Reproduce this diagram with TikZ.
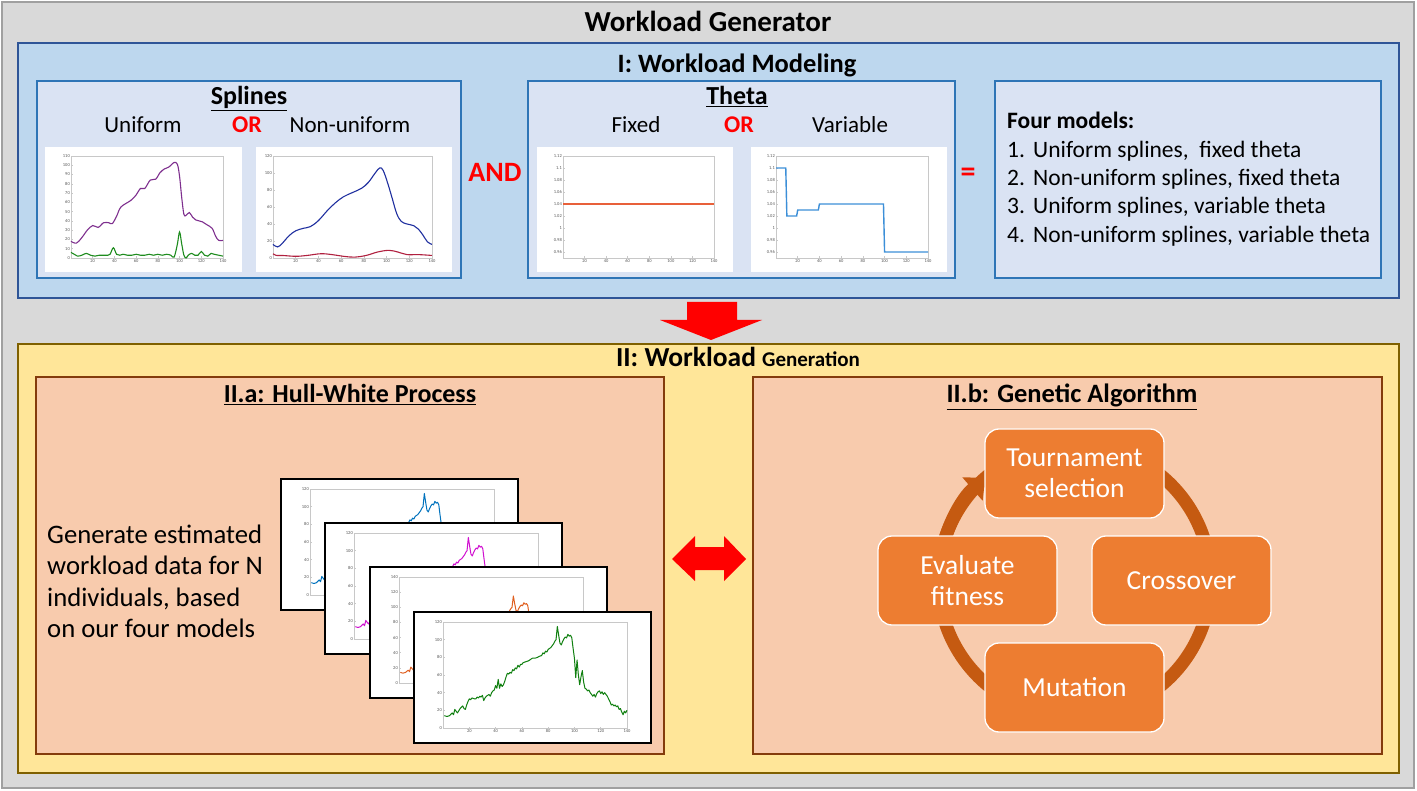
\documentclass[tikz,border=0pt]{standalone}
\usepackage{fontspec}
\setmainfont{Carlito}
\usetikzlibrary{arrows.meta}
\definecolor{gbg}{HTML}{D9D9D9}
\definecolor{gbd}{HTML}{A0A0A0}
\definecolor{bbg}{HTML}{BDD7EE}
\definecolor{bbd}{HTML}{2F5597}
\definecolor{ibg}{HTML}{DAE3F3}
\definecolor{ibd}{HTML}{2E75B6}
\definecolor{ybg}{HTML}{FFE699}
\definecolor{ybd}{HTML}{7F6000}
\definecolor{obg}{HTML}{F8CBAD}
\definecolor{obd}{HTML}{843C0C}
\definecolor{nfill}{HTML}{ED7D31}
\definecolor{cyc}{HTML}{C55A11}
\definecolor{axg}{HTML}{C8C8C8}
\definecolor{tickg}{HTML}{555555}
\definecolor{mpurple}{HTML}{7E2F8E}
\definecolor{mgreen}{HTML}{1E8C1E}
\definecolor{mblue}{HTML}{1F2F9F}
\definecolor{mred}{HTML}{B0203F}
\definecolor{morange}{HTML}{E8603A}
\definecolor{mlblue}{HTML}{3C8FD8}
\definecolor{hwblue}{HTML}{0072BD}
\definecolor{hwmag}{HTML}{D010D0}
\definecolor{hworange}{HTML}{E06020}
\definecolor{hwgreen}{HTML}{108010}
\definecolor{myred}{HTML}{FF0000}
\newcommand\myfs[2]{\fontsize{#1}{#2}\selectfont}
\tikzset{
  txt/.style={inner sep=0pt, anchor=base},
  tl/.style={font=\myfs{4.5}{5}, text=tickg, inner sep=1pt},
  axb/.style={draw=axg, line width=0.5pt},
  outerbox/.style={fill=gbg, draw=gbd, line width=2pt},
  bluebox/.style={fill=bbg, draw=bbd, line width=2pt},
  innerbox/.style={fill=ibg, draw=ibd, line width=1.8pt},
  yellowbox/.style={fill=ybg, draw=ybd, line width=2pt},
  orangebox/.style={fill=obg, draw=obd, line width=2pt},
  card/.style={draw=black, line width=2pt, fill=white, minimum width=237pt, minimum height=131pt, inner sep=0pt},
  gnode/.style={fill=nfill, draw=white, line width=1.3pt, rounded corners=14pt, text=white, font=\myfs{27.5}{31}, minimum width=179pt, minimum height=89pt, align=center, inner sep=0pt},
  cycline/.style={draw=cyc, line width=13pt},
  redarrow/.style={fill=myred, draw=none},
}
\newcommand\hwpath{plot coordinates {(1,14)(3,13)(5,14)(7,17)(8,15)(9,21)(10,19)(11,17)(13,22)(15,25)(16,22)(17,21)(18,26)(19,30)(20,33)(21,32)(22,34)(24,33)(25,33)(26,35)(27,34)(28,36)(29,35)(30,37)(31,31)(32,34)(33,36)(35,38)(36,36)(37,40)(38,42)(39,43)(40,48)(41,45)(42,55)(43,45)(44,50)(45,47)(46,49)(47,53)(48,58)(49,62)(50,61)(51,63)(52,62)(53,66)(54,65)(55,68)(56,67)(57,71)(58,69)(59,72)(60,72)(61,74)(63,75)(65,76)(67,78)(68,79)(70,79)(72,80)(73,81)(75,82)(76,85)(77,84)(78,87)(79,86)(80,89)(82,91)(84,95)(85,98)(86,100)(87,115)(88,105)(89,96)(90,94)(91,98)(92,101)(93,103)(94,102)(95,106)(96,104)(97,105)(98,102)(99,90)(100,79)(101,57)(102,77)(103,60)(104,49)(105,58)(106,65)(107,52)(108,45)(109,44)(110,42)(111,43)(112,40)(113,38)(114,36)(115,38)(116,35)(117,39)(118,41)(119,42)(120,39)(121,41)(122,38)(123,40)(124,38)(125,36)(126,33)(127,30)(128,26)(129,27)(130,25)(131,26)(132,24)(133,25)(134,21)(135,22)(136,18)(137,15)(138,19)(139,17)(140,20)}}
\newcommand\hwcard[6]{%
  \node[card, anchor=north west] (#1) at (#2,#3) {};
  \begin{scope}[shift={(#2,#3)}, shift={(30,117)}, x=1.3143pt, y=#6]
    \draw[axb] (0,0) rectangle (140,#5);
    \foreach \t in {20,40,...,140}{\draw[axb] (\t,0) -- ++(0pt,1.5pt); \node[tl,below] (#1x\t) at (\t,0) {\t};}
    \foreach \t in {0,20,...,#5}{\draw[axb] (0,\t) -- ++(1.5pt,0pt); \node[tl,left] (#1y\t) at (0,\t) {\t};}
    \draw[#4, line width=1pt, line join=round] \hwpath;
  \end{scope}}
\begin{document}
\begin{tikzpicture}[x=1pt, y=-1pt]
\useasboundingbox (0,0) rectangle (1417,791);
% ---------- panels
\path[outerbox] (2,2) rectangle (1414,788);
\path[bluebox] (18,43) rectangle (1399,298);
\path[innerbox] (37,81) rectangle (461,278);
\path[innerbox] (528,81) rectangle (955,278);
\path[innerbox] (995,81) rectangle (1381,278);
\path[yellowbox] (18,344) rectangle (1399,773);
\path[orangebox] (36,377) rectangle (664,754);
\path[orangebox] (753,377) rectangle (1382,754);
% ---------- titles
\node[txt, font=\myfs{29}{32}\bfseries] (title) at (708,32) {Workload Generator};
\node[txt, font=\myfs{26.5}{30}\bfseries] (secI) at (737,73) {I: Workload Modeling};
\node[txt, font=\myfs{27.5}{30}\bfseries] (secII) at (738,367) {II: Workload {\myfs{21}{24}Generation}};
% ---------- splines box
\node[txt, font=\myfs{26}{30}\bfseries] (spl) at (249,105) {\underline{Splines}};
\node[txt, font=\myfs{23}{28}] (uni) at (143,133) {Uniform};
\node[txt, font=\myfs{24}{28}\bfseries, text=myred] (or1) at (247,133) {OR};
\node[txt, font=\myfs{23}{28}] (nonuni) at (350,133) {Non-uniform};
\fill[white] (45,147) rectangle (242,272);
\fill[white] (256,147) rectangle (452,272);
% uniform plot
\begin{scope}[shift={(71,258)}, x=1.0857pt, y=0.9273pt]
  \draw[axb] (0,0) rectangle (140,110);
  \foreach \t in {20,40,...,140}{\draw[axb] (\t,0) -- ++(0pt,1.5pt); \node[tl,below] (ux\t) at (\t,0) {\t};}
  \foreach \t in {0,10,...,110}{\draw[axb] (0,\t) -- ++(1.5pt,0pt); \node[tl,left] (uy\t) at (0,\t) {\t};}
  \draw[mpurple, line width=1.1pt] plot[smooth, tension=0.55] coordinates {(0,18)(5,16)(10,22)(15,30)(20,35)(25,33)(30,38)(35,38)(38,37)(42,45)(46,55)(55,62)(60,68)(64,75)(68,75)(73,84)(78,85)(82,92)(86,96)(90,98)(95,103)(98,101)(100,88)(102,65)(104,47)(106,46)(109,49)(112,44)(115,41)(121,39)(125,36)(130,32)(133,24)(136,19)(140,19)};
  \draw[mgreen, line width=1.1pt] plot[smooth, tension=0.55] coordinates {(0,6)(3,4)(6,2)(10,3)(14,5)(18,3)(22,2)(26,3)(30,3)(34,3)(36,4)(39,11)(42,4)(45,3)(48,4)(52,3)(56,3)(60,4)(64,3)(68,3)(72,4)(76,3)(80,4)(84,3)(88,4)(92,3)(95,1)(98,15)(100,28)(102,15)(104,3)(106,0)(108,3)(111,5)(114,3)(117,3)(120,7)(123,3)(126,2)(129,5)(132,4)(136,3)(140,2)};
\end{scope}
% non-uniform plot
\begin{scope}[shift={(273,258)}, x=1.1357pt, y=0.85pt]
  \draw[axb] (0,0) rectangle (140,120);
  \foreach \t in {20,40,...,140}{\draw[axb] (\t,0) -- ++(0pt,1.5pt); \node[tl,below] (nx\t) at (\t,0) {\t};}
  \foreach \t in {0,20,...,120}{\draw[axb] (0,\t) -- ++(1.5pt,0pt); \node[tl,left] (ny\t) at (0,\t) {\t};}
  \draw[mblue, line width=1.1pt] plot[smooth, tension=0.6] coordinates {(0,16)(4,13)(8,17)(14,26)(20,32)(27,35)(33,37)(40,44)(48,56)(55,65)(62,72)(70,77)(78,82)(84,89)(90,100)(94,106)(97,103)(101,88)(105,70)(109,52)(113,43)(118,40)(124,38)(128,34)(132,27)(136,19)(140,16)};
  \draw[mred, line width=1.1pt] plot[smooth, tension=0.6] coordinates {(0,5)(3,3)(8,3)(20,2)(30,3)(42,5)(52,4)(62,2)(72,1)(82,3)(92,7)(102,9)(110,7)(118,4)(128,4)(140,3)};
\end{scope}
% ---------- AND / =
\node[txt, font=\myfs{28}{32}\bfseries, text=myred] (and) at (495,182) {AND};
\node[txt, font=\myfs{30}{32}\bfseries, text=myred] (eq) at (968,182) {=};
% ---------- theta box
\node[txt, font=\myfs{26}{30}\bfseries] (theta) at (737,105) {\underline{Theta}};
\node[txt, font=\myfs{23}{28}] (fixed) at (636,133) {Fixed};
\node[txt, font=\myfs{24}{28}\bfseries, text=myred] (or2) at (739,133) {OR};
\node[txt, font=\myfs{23}{28}] (variable) at (850,133) {Variable};
\fill[white] (537,147) rectangle (733,272);
\fill[white] (751,147) rectangle (947,272);
\begin{scope}[shift={(563,258)}, x=1.0786pt, y=6pt]
  \draw[axb] (0,0) rectangle (140,17);
  \foreach \t in {20,40,...,140}{\draw[axb] (\t,0) -- ++(0pt,1.5pt); \node[tl,below] (fx\t) at (\t,0) {\t};}
  \foreach \p/\l in {1/0.96,3/0.98,5/1,7/1.02,9/1.04,11/1.06,13/1.08,15/1.1,17/1.12}{\draw[axb] (0,\p) -- ++(1.5pt,0pt); \node[tl,left] (fy\p) at (0,\p) {\l};}
  \draw[morange, line width=1.3pt] (0,9) -- (140,9);
\end{scope}
\begin{scope}[shift={(776,258)}, x=1.0857pt, y=6pt]
  \draw[axb] (0,0) rectangle (140,17);
  \foreach \t in {20,40,...,140}{\draw[axb] (\t,0) -- ++(0pt,1.5pt); \node[tl,below] (vx\t) at (\t,0) {\t};}
  \foreach \p/\l in {1/0.96,3/0.98,5/1,7/1.02,9/1.04,11/1.06,13/1.08,15/1.1,17/1.12}{\draw[axb] (0,\p) -- ++(1.5pt,0pt); \node[tl,left] (vy\p) at (0,\p) {\l};}
  \draw[mlblue, line width=1.4pt] (0,15) -- (9,15) -- (10,7) -- (19,7) -- (20,8) -- (39,8) -- (40,9) -- (99,9) -- (100,1) -- (140,1);
\end{scope}
% ---------- four models
\node[txt, anchor=base west, font=\myfs{23.5}{28}\bfseries] (fm) at (1007,129) {Four models:};
\node[txt, anchor=base west, font=\myfs{23.5}{28}] (m1) at (1007,158) {\makebox[26pt][l]{1.}Uniform splines,\ \ fixed theta};
\node[txt, anchor=base west, font=\myfs{23.5}{28}] (m2) at (1007,186) {\makebox[26pt][l]{2.}Non-uniform splines, fixed theta};
\node[txt, anchor=base west, font=\myfs{23.5}{28}] (m3) at (1007,214) {\makebox[26pt][l]{3.}Uniform splines, variable theta};
\node[txt, anchor=base west, font=\myfs{23.5}{28}] (m4) at (1007,243) {\makebox[26pt][l]{4.}Non-uniform splines, variable theta};
% ---------- big red down arrow
\path[redarrow] (687,302) -- (737,302) -- (737,320) -- (762,320) -- (711,340) -- (660,320) -- (687,320) -- cycle;
% ---------- II.a
\node[txt, font=\myfs{26}{30}\bfseries] (hw) at (350,403) {\underline{II.a: Hull-White Process}};
\node[txt, anchor=base west, font=\myfs{26.7}{31}] (l1) at (47,543) {Generate estimated};
\node[txt, anchor=base west, font=\myfs{26.7}{31}] (l2) at (47,574) {workload data for N};
\node[txt, anchor=base west, font=\myfs{26.7}{31}] (l3) at (47,606) {individuals, based};
\node[txt, anchor=base west, font=\myfs{26.7}{31}] (l4) at (47,637) {on our four models};
\hwcard{cA}{280}{478}{hwblue}{120}{0.8833pt}
\hwcard{cB}{324}{522}{hwmag}{120}{0.8833pt}
\hwcard{cC}{369}{566}{hworange}{140}{0.7571pt}
\hwcard{cD}{413}{611}{hwgreen}{120}{0.8833pt}
% ---------- double arrow
\path[redarrow] (672,559) -- (695,536) -- (695,547) -- (724,547) -- (724,536) -- (746,559) -- (724,581) -- (724,570) -- (695,570) -- (695,581) -- cycle;
% ---------- II.b
\node[txt, font=\myfs{26.5}{30}\bfseries] (ga) at (1072,403) {\underline{II.b: Genetic Algorithm}};
\draw[cycline] (1074.5,580.5) circle[radius=136];
\draw[cycline, -{Triangle[width=30pt,length=17pt]}] (1074.5,580.5) ++(190:136) arc[start angle=190, end angle=229, radius=136];
\node[gnode] (tour) at (1074.5,473.5) {Tournament\\selection};
\node[gnode] (eval) at (967.5,580.5) {Evaluate\\fitness};
\node[gnode] (cross) at (1181.5,580.5) {Crossover};
\node[gnode] (mut) at (1074.5,687.5) {Mutation};
\end{tikzpicture}
\end{document}
